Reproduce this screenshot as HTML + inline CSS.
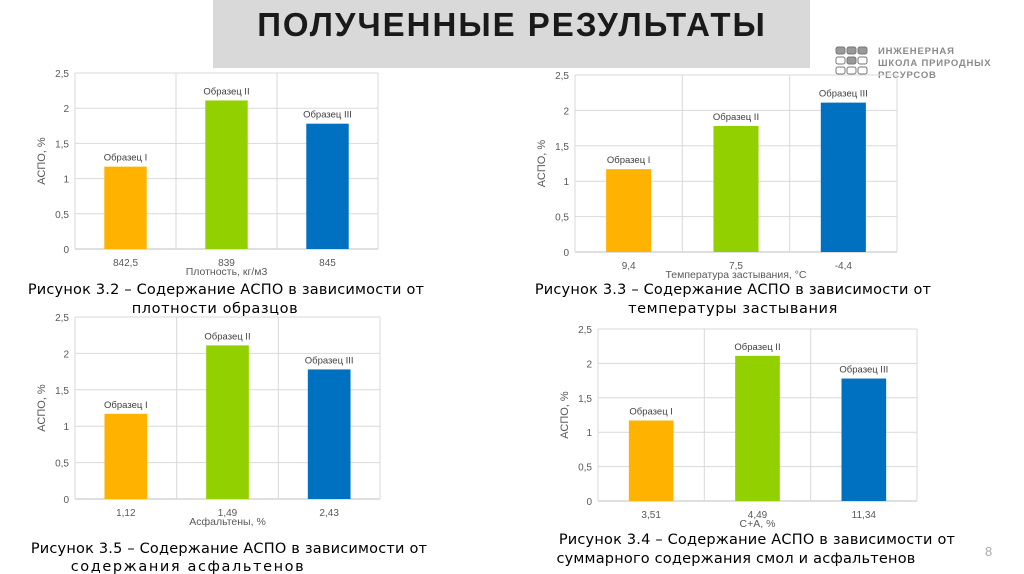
<!DOCTYPE html>
<html><head><meta charset="utf-8"><style>
body{margin:0;width:1024px;height:574px;background:#fff;overflow:hidden;font-family:"Liberation Sans","DejaVu Sans",sans-serif}
svg{position:absolute;left:0;top:0}
</style></head><body>
<svg id="s" width="1024" height="574">
<rect x="213" y="0" width="597" height="68" fill="#d9d9d9"/>
<text x="512" y="36" text-anchor="middle" font-size="33" font-weight="bold" fill="#1a1a1a" letter-spacing="2">ПОЛУЧЕННЫЕ РЕЗУЛЬТАТЫ</text>
<g fill="#999" stroke="#777" stroke-width="1">
<rect x="836" y="47" width="9" height="7" rx="2"/><rect x="847" y="47" width="9" height="7" rx="2"/><rect x="858" y="47" width="9" height="7" rx="2"/>
<rect x="836" y="57" width="9" height="7" rx="2" fill="none"/><rect x="847" y="57" width="9" height="7" rx="2"/><rect x="858" y="57" width="9" height="7" rx="2" fill="none"/>
<rect x="836" y="67" width="9" height="7" rx="2" fill="none"/><rect x="847" y="67" width="9" height="7" rx="2" fill="none"/><rect x="858" y="67" width="9" height="7" rx="2" fill="none"/>
</g>
<g font-size="9.5" font-weight="bold" fill="#8a8a8a" letter-spacing="0.8">
<text x="878" y="54">ИНЖЕНЕРНАЯ</text><text x="878" y="66">ШКОЛА ПРИРОДНЫХ</text><text x="878" y="78">РЕСУРСОВ</text>
</g>
<text x="985" y="556" font-size="13" fill="#aaa">8</text>
</svg>
<script>
const values1=[1.17,2.11,1.78];
const values2=[1.17,1.78,2.11];
const values3=[1.17,2.11,1.78];
const values4=[1.17,2.11,1.78];
const cats1=["842,5","839","845"];
const cats2=["9,4","7,5","-4,4"];
const cats3=["1,12","1,49","2,43"];
const cats4=["3,51","4,49","11,34"];
const labels1=["Образец I","Образец II","Образец III"];
const labels2=["Образец I","Образец II","Образец III"];
const yTicks=[0,0.5,1,1.5,2,2.5];
const yTickLabels=["0","0,5","1","1,5","2","2,5"];
const colors=["#ffb300","#92d000","#0070c0"];
const NS="http://www.w3.org/2000/svg";
const svg=document.getElementById('s');
function mk(t,a,p){const e=document.createElementNS(NS,t);for(const k in a)e.setAttribute(k,a[k]);(p||svg).appendChild(e);return e;}
const charts=[
{id:'fig-3-2',x0:75,x1:378,yTop:73,yBot:249,vals:values1,cats:cats1,labs:labels1,xt:"Плотность, кг/м3",cap:["Рисунок 3.2 – Содержание АСПО в зависимости от","плотности образцов"],capX:[226,215],capY:[294,313],capLS:[0.2,0.6]},
{id:'fig-3-3',x0:575,x1:897,yTop:75,yBot:252,vals:values2,cats:cats2,labs:labels2,xt:"Температура застывания, °C",cap:["Рисунок 3.3 – Содержание АСПО в зависимости от","температуры застывания"],capX:[733,733],capY:[294,313],capLS:[0.2,0.6]},
{id:'fig-3-5',x0:75,x1:380,yTop:317,yBot:499,vals:values3,cats:cats3,labs:labels1,xt:"Асфальтены, %",cap:["Рисунок 3.5 – Содержание АСПО в зависимости от","содержания асфальтенов"],capX:[229,188],capY:[553,571],capLS:[0.2,1.6]},
{id:'fig-3-4',x0:598,x1:917,yTop:329,yBot:501,vals:values4,cats:cats4,labs:labels1,xt:"С+А, %",cap:["Рисунок 3.4 – Содержание АСПО в зависимости от","суммарного содержания смол и асфальтенов"],capX:[757,736],capY:[544,563],capLS:[0.2,0.2]}
];
charts.forEach(c=>{
 const g=mk('g',{});
 
 
 const y=v=>c.yBot-(v/2.5)*(c.yBot-c.yTop);
 const n=c.vals.length, w=(c.x1-c.x0)/n;
 yTicks.forEach((t,i)=>{
  const gl=mk('line',{x1:c.x0,x2:c.x1,y1:y(t),y2:y(t),stroke:i==0?'#bfbfbf':'#d9d9d9','stroke-width':1},g);
  
  
  const tl=mk('text',{x:c.x0-6,y:y(t)+4,'text-anchor':'end','font-size':10,fill:'#595959'},g);
  tl.textContent=yTickLabels[i];
  
  
 });
 for(let i=0;i<=n;i++){mk('line',{x1:c.x0+i*w,x2:c.x0+i*w,y1:c.yTop,y2:c.yBot,stroke:'#d9d9d9'},g);}
 c.vals.forEach((v,i)=>{
  const bw=w*0.42, bx=c.x0+i*w+(w-bw)/2;
  const r=mk('rect',{x:bx,y:y(v),width:bw,height:c.yBot-y(v),fill:colors[i]},g);
  
  
  const lt=mk('text',{x:bx+bw/2,y:y(v)-6,'text-anchor':'middle','font-size':9.5,fill:'#404040'},g);
  lt.textContent=c.labs[i];
  
  
  const ct=mk('text',{x:bx+bw/2,y:c.yBot+17,'text-anchor':'middle','font-size':10,fill:'#595959'},g);
  ct.textContent=c.cats[i];
  
  
 });
 const xt=mk('text',{x:(c.x0+c.x1)/2,y:c.yBot+26,'text-anchor':'middle','font-size':10.5,fill:'#595959'},g);
 xt.textContent=c.xt;
 
 
 const cy=(c.yTop+c.yBot)/2, ax=c.x0-30;
 const yt=mk('text',{x:ax,y:cy,'text-anchor':'middle','font-size':11,fill:'#595959',transform:`rotate(-90 ${ax} ${cy})`},g);
 yt.textContent="АСПО, %";
 
 
 c.cap.forEach((s,i)=>{
  const t=mk('text',{x:c.capX[i],y:c.capY[i],'text-anchor':'middle','font-size':14.5,fill:'#000','font-family':'"DejaVu Sans",sans-serif','letter-spacing':c.capLS[i]},g);
  t.textContent=s;
  
  
 });
});
</script>
</body></html>
